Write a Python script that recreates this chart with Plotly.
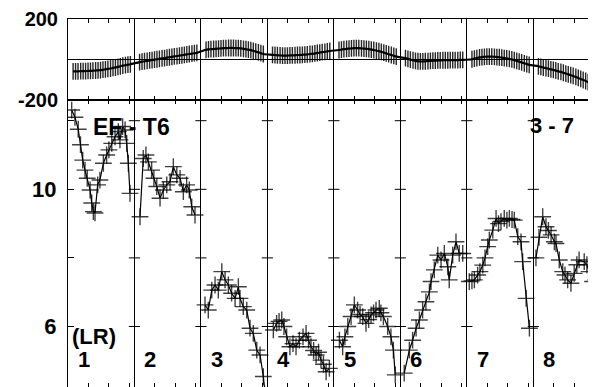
import plotly.graph_objects as go

SEG_LEN = 3.25
N_SEG = 8
SEGMENT_LABELS = ["1", "2", "3", "4", "5", "6", "7", "8"]

# top panel: sampling times within a segment and values per segment
TOP_T = [0.25, 0.37, 0.49, 0.62, 0.74, 0.86, 0.98, 1.10, 1.22, 1.35, 1.47, 1.59,
         1.71, 1.83, 1.95, 2.08, 2.20, 2.32, 2.44, 2.56, 2.68, 2.81, 2.93, 3.05]
TOP_VALUES = [
    [-60, -60, -60, -59, -59, -59, -58, -58, -57, -56, -55, -54, -52, -50, -48, -46, -43, -41, -38, -35, -32, -29, -27, -25],
    [-14, -12, -10, -8, -6, -4, -2, 0, 2, 4, 6, 8, 10, 12, 14, 16, 18, 20, 22, 24, 26, 28, 30, 32],
    [47, 49, 50, 51, 52, 53, 54, 55, 55, 56, 56, 56, 55, 55, 54, 52, 50, 48, 45, 42, 38, 34, 30, 26],
    [22, 21, 20, 19, 18, 18, 18, 19, 19, 20, 21, 21, 22, 23, 24, 26, 27, 29, 31, 33, 35, 37, 39, 41],
    [46, 48, 50, 52, 53, 54, 55, 55, 55, 54, 53, 52, 50, 48, 46, 43, 40, 37, 33, 29, 25, 21, 17, 13],
    [6, 2, -2, -5, -8, -10, -11, -11, -10, -9, -8, -7, -7, -6, -6, -5, -5, -5, -4, -4, -4, -4, -3, -3],
    [0, 3, 6, 9, 11, 12, 13, 13, 13, 12, 11, 10, 8, 6, 4, 2, -1, -4, -8, -12, -16, -20, -24, -28],
    [-35, -38, -41, -44, -47, -50, -53, -56, -60, -63, -67, -71, -75, -79, -83, -88, -93, -98, -103, -108, -114, -120, -126, -132],
]

# bottom panel: times within segment and values
LOW_TIMES = [
    [0.18, 0.34, 0.50, 0.61, 0.72, 0.83, 0.94, 1.08, 1.16, 1.24, 1.32, 1.45, 1.56, 1.73, 1.89, 2.00, 2.14, 2.30, 2.46, 2.54, 2.67, 2.79, 2.87, 2.95, 3.03],
    [0.27, 0.43, 0.56, 0.68, 0.84, 0.95, 1.09, 1.25, 1.41, 1.58, 1.74, 1.90, 2.07, 2.23, 2.39, 2.55, 2.68, 2.80, 2.96],
    [0.20, 0.36, 0.53, 0.69, 0.85, 1.02, 1.18, 1.34, 1.50, 1.67, 1.83, 1.91, 2.07, 2.24, 2.40, 2.56, 2.73, 2.89, 3.05, 3.15],
    [0.29, 0.45, 0.57, 0.70, 0.81, 0.94, 1.10, 1.25, 1.40, 1.56, 1.74, 1.89, 2.01, 2.13, 2.26, 2.38, 2.50, 2.62, 2.74, 2.87, 3.03],
    [0.27, 0.43, 0.54, 0.68, 0.84, 1.00, 1.16, 1.28, 1.41, 1.57, 1.70, 1.82, 1.94, 2.06, 2.22, 2.30, 2.42, 2.63, 2.79, 2.91, 3.00],
    [0.19, 0.44, 0.60, 0.77, 0.93, 1.09, 1.25, 1.42, 1.50, 1.66, 1.83, 1.99, 2.15, 2.32, 2.39, 2.56, 2.72, 2.88, 3.05],
    [0.12, 0.25, 0.37, 0.53, 0.64, 0.78, 0.89, 1.02, 1.10, 1.27, 1.43, 1.55, 1.67, 1.83, 1.96, 2.08, 2.21, 2.32, 2.49, 2.65, 2.73, 2.90, 3.06],
    [0.13, 0.28, 0.46, 0.62, 0.74, 0.87, 1.03, 1.11, 1.27, 1.44, 1.55, 1.68, 1.84, 2.00, 2.13, 2.24, 2.49, 2.62, 2.73, 2.90, 3.06],
]
LOW_VALUES = [
    [12.31, 12.10, 11.75, 11.30, 10.85, 10.56, 10.32, 9.98, 9.60, 9.35, 9.31, 10.13, 10.27, 10.76, 11.00, 11.15, 11.34, 11.53, 11.68, 11.44, 11.83, 11.73, 11.34, 10.76, 9.88],
    [9.20, 10.90, 11.00, 10.80, 10.56, 10.32, 10.08, 9.74, 9.98, 10.13, 10.22, 10.66, 10.42, 10.32, 9.93, 10.13, 9.98, 9.49, 9.25],
    [6.63, 6.48, 7.06, 7.21, 7.06, 7.60, 7.36, 7.21, 6.97, 6.82, 7.16, 6.82, 6.58, 6.48, 5.95, 5.80, 5.31, 5.17, 4.54, 4.00],
    [5.90, 6.09, 6.15, 6.19, 6.00, 5.70, 5.41, 5.50, 5.41, 5.60, 5.70, 5.80, 5.60, 5.41, 5.30, 5.17, 5.25, 5.02, 4.90, 4.68, 4.78],
    [5.60, 5.41, 5.70, 6.00, 6.29, 6.63, 6.48, 6.35, 6.29, 6.09, 6.20, 6.34, 6.40, 6.48, 6.53, 6.40, 6.29, 6.00, 5.70, 5.31, 4.59],
    [4.64, 5.31, 5.60, 5.95, 6.19, 6.48, 6.72, 7.01, 7.31, 7.65, 8.08, 7.94, 8.13, 7.74, 7.36, 8.08, 8.47, 8.13, 8.13],
    [7.31, 7.33, 7.36, 7.50, 7.60, 7.79, 8.00, 8.33, 8.52, 8.81, 9.15, 9.00, 9.06, 9.15, 9.10, 9.15, 9.12, 9.10, 8.62, 8.47, 7.89, 6.82, 5.95],
    [8.00, 8.60, 9.20, 8.91, 8.80, 8.67, 8.47, 8.42, 7.94, 7.60, 7.50, 7.36, 7.26, 7.55, 7.80, 7.94, 7.89, 7.80, 7.60, 7.31, 7.36],
]

TOP_TICKS = [-200, 200]
LOW_TICKS = [6, 8, 10, 12]
LOW_TICK_TEXT = ["6", "", "10", ""]
INNER_TICKS = [1, 2, 3]

FONT = "Liberation Sans, Arial, sans-serif"
OFF = 8                      # page body margin
W, H = 596 - OFF, 387 - OFF  # figure size inside the page
LEFT = 68 - OFF
PX_PER_SEG = 66.47
TOP_PX, MID_PX = 19 - OFF, 99.5 - OFF
top_dom = [(H - MID_PX) / H, (H - TOP_PX) / H]
low_dom = [0, (H - MID_PX) / H]


def px_to_x(px):
    return (px - 68) / (PX_PER_SEG / SEG_LEN)


def py_to_paper(py):
    return (H - (py - OFF)) / H


boundaries = [k * SEG_LEN for k in range(N_SEG + 1)]
minor_vals = [k * SEG_LEN + t for k in range(N_SEG) for t in INNER_TICKS]

fig = go.Figure()

# top panel line + markers
top_x, top_y = [], []
for k in range(N_SEG):
    for t, v in zip(TOP_T, TOP_VALUES[k]):
        top_x.append(k * SEG_LEN + t)
        top_y.append(v)
fig.add_trace(go.Scatter(x=top_x, y=top_y, mode="markers", xaxis="x", yaxis="y",
                         marker=dict(symbol="line-ns", size=12, color="black",
                                     line=dict(width=1.4, color="rgba(0,0,0,0.85)")),
                         showlegend=False, hoverinfo="skip"))
fig.add_trace(go.Scatter(x=top_x, y=top_y, mode="lines", xaxis="x", yaxis="y",
                         line=dict(color="black", width=2.2, shape="spline", smoothing=1.0),
                         showlegend=False, hoverinfo="skip"))

# bottom panel segments
for k in range(N_SEG):
    xs = [k * SEG_LEN + t for t in LOW_TIMES[k]]
    fig.add_trace(go.Scatter(x=xs, y=LOW_VALUES[k], mode="lines+markers", xaxis="x2", yaxis="y2",
                             line=dict(color="black", width=1.2),
                             marker=dict(symbol="cross-thin", size=12,
                                         line=dict(width=1.4, color="rgba(0,0,0,0.75)")),
                             showlegend=False, hoverinfo="skip"))

# cross ticks on the inner segment boundaries
cx, cy = [], []
for b in boundaries[1:-1]:
    for v in LOW_TICKS:
        cx.append(b)
        cy.append(v)
fig.add_trace(go.Scatter(x=cx, y=cy, mode="markers", xaxis="x2", yaxis="y2",
                         marker=dict(symbol="line-ew", size=8, line=dict(width=1, color="black")),
                         showlegend=False, hoverinfo="skip"))

x_range = [0, px_to_x(596)]
xcommon = dict(range=x_range, tickvals=boundaries, ticks="inside", ticklen=4, tickcolor="black",
               showticklabels=False, showgrid=True, gridcolor="black", gridwidth=1,
               showline=True, linecolor="black", linewidth=1, mirror="ticks", zeroline=False,
               automargin=False,
               minor=dict(tickvals=minor_vals, ticks="inside", ticklen=4, tickcolor="black", showgrid=False))

fig.update_layout(
    width=W, height=H,
    margin=dict(l=LEFT, r=0, t=0, b=0, autoexpand=False),
    paper_bgcolor="white", plot_bgcolor="white",
    xaxis=dict(domain=[0, 1], anchor="y", **xcommon),
    xaxis2=dict(domain=[0, 1], anchor="y2", matches="x", **xcommon),
    yaxis=dict(domain=top_dom, anchor="x", range=[-200, 200], tickvals=TOP_TICKS,
               ticktext=[str(v) for v in TOP_TICKS], ticks="", showgrid=False,
               zeroline=True, zerolinecolor="black", zerolinewidth=1,
               showline=True, linecolor="black", linewidth=1, mirror=True,
               ticklabelstandoff=5, automargin=False,
               tickfont=dict(family=FONT, size=20, color="black", weight="bold")),
    yaxis2=dict(domain=low_dom, anchor="x2", range=[4.236, 12.618], tickvals=LOW_TICKS,
                ticktext=LOW_TICK_TEXT, ticks="inside", ticklen=6, tickcolor="black",
                showgrid=False, zeroline=False,
                showline=True, linecolor="black", linewidth=1, mirror="ticks",
                ticklabelstandoff=6, automargin=False,
                tickfont=dict(family=FONT, size=22, color="black", weight="bold")),
)

afont = dict(family=FONT, size=22, color="black", weight="bold")
for k, lab in enumerate(SEGMENT_LABELS):
    fig.add_annotation(x=k * SEG_LEN + 0.78, y=py_to_paper(359), xref="x2", yref="paper",
                       text=lab, showarrow=False, font=afont, xanchor="center", yanchor="middle")
fig.add_annotation(x=px_to_x(131), y=py_to_paper(126.5), xref="x2", yref="paper",
                   text="EF - T6", showarrow=False, font=dict(afont, size=23),
                   xanchor="center", yanchor="middle")
fig.add_annotation(x=px_to_x(551.5), y=py_to_paper(125), xref="x2", yref="paper",
                   text="3 - 7", showarrow=False, font=afont, xanchor="center", yanchor="middle")
fig.add_annotation(x=px_to_x(94), y=py_to_paper(336), xref="x2", yref="paper",
                   text="(LR)", showarrow=False, font=afont, xanchor="center", yanchor="middle")

fig.write_html("out.html")
